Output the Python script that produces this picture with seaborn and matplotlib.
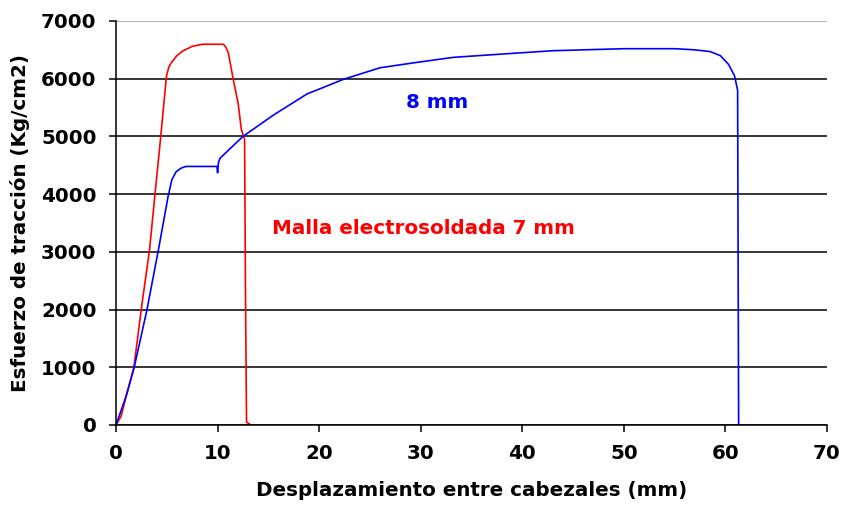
import matplotlib
matplotlib.use("Agg")
import matplotlib.pyplot as plt
import seaborn as sns
import pandas as pd

# red curve: malla electrosoldada 7 mm
red_x = [0, 0.5, 1.0, 1.76, 2.56, 3.3, 3.85, 4.39, 4.97, 5.2, 5.45, 6.0, 6.57,
         7.5, 8.5, 10.58, 10.8, 11.06, 11.54, 12.02, 12.34, 12.66, 12.75, 12.85, 13.3]
red_y = [0, 150, 500, 1000, 2100, 3030, 4020, 4970, 6050, 6200, 6280, 6400, 6480,
         6560, 6597, 6597, 6550, 6450, 5990, 5580, 5120, 4950, 2280, 50, 0]

# blue curve: 8 mm
blue_x = [0, 0.5, 1.0, 1.76, 3.04, 4.17, 5.13, 5.5, 5.93, 6.4, 6.89, 8.0, 9.94,
          10.0, 10.1, 10.26, 12.5, 15.5, 18.8, 22.4, 26.0, 29.3, 33.2, 37.8,
          43.0, 50.0, 55.0, 57.0, 58.5, 59.5, 60.3, 60.9, 61.2, 61.3]
blue_y = [0, 250, 500, 975, 1990, 3030, 3960, 4250, 4390, 4450, 4480, 4480, 4480,
          4370, 4560, 4626, 5000, 5370, 5735, 5990, 6190, 6275, 6370, 6425,
          6485, 6520, 6520, 6500, 6470, 6400, 6250, 6050, 5800, 0]

x_ticks = [0, 10, 20, 30, 40, 50, 60, 70]
y_ticks = [0, 1000, 2000, 3000, 4000, 5000, 6000, 7000]

df_red = pd.DataFrame({"x": red_x, "y": red_y})
df_blue = pd.DataFrame({"x": blue_x, "y": blue_y})

sns.set_style("white")
plt.rcParams["font.family"] = ["DejaVu Sans"]
plt.rcParams["font.weight"] = "bold"
for key in ["text.color", "axes.labelcolor", "xtick.color", "ytick.color"]:
    plt.rcParams[key] = "black"

fig = plt.figure(figsize=(8.51, 5.13), dpi=100)
ax = fig.add_axes([116 / 851, 1 - 425 / 513, 711 / 851, 404 / 513])

sns.lineplot(data=df_red, x="x", y="y", sort=False, estimator=None,
             color="#ff0000", linewidth=1.2, ax=ax)
sns.lineplot(data=df_blue, x="x", y="y", sort=False, estimator=None,
             color="#0000ff", linewidth=1.2, ax=ax)

ax.set_xlim(0, 70)
ax.set_ylim(0, 7000)
ax.set_xticks(x_ticks)
ax.set_yticks(y_ticks)
ax.yaxis.grid(True, color="black", linewidth=1.1)
ax.get_ygridlines()[-1].set_color("#999999")
ax.set_axisbelow(True)

for side in ["top", "right"]:
    ax.spines[side].set_visible(False)
for side in ["left", "bottom"]:
    ax.spines[side].set_color("black")
    ax.spines[side].set_linewidth(1.1)

ax.tick_params(axis="both", direction="out", length=5, width=1.1,
               color="black", labelcolor="black", labelsize=14.3, pad=9,
               bottom=True, left=True)
for lab in ax.get_xticklabels() + ax.get_yticklabels():
    lab.set_fontweight("bold")

ax.set_xlabel("Desplazamiento entre cabezales (mm)", fontsize=14.3,
              fontweight="bold", labelpad=13, color="black")
ax.set_ylabel("Esfuerzo de tracción (Kg/cm2)", fontsize=14.3,
              fontweight="bold", labelpad=8, color="black")

ax.text(31.6, 5590, "8 mm", color="#0000ff", fontsize=14.3,
        fontweight="bold", ha="center", va="center")
ax.text(30.3, 3410, "Malla electrosoldada 7 mm", color="#ff0000",
        fontsize=14.3, fontweight="bold", ha="center", va="center")

plt.savefig("out.png", dpi=100)
plt.close()
